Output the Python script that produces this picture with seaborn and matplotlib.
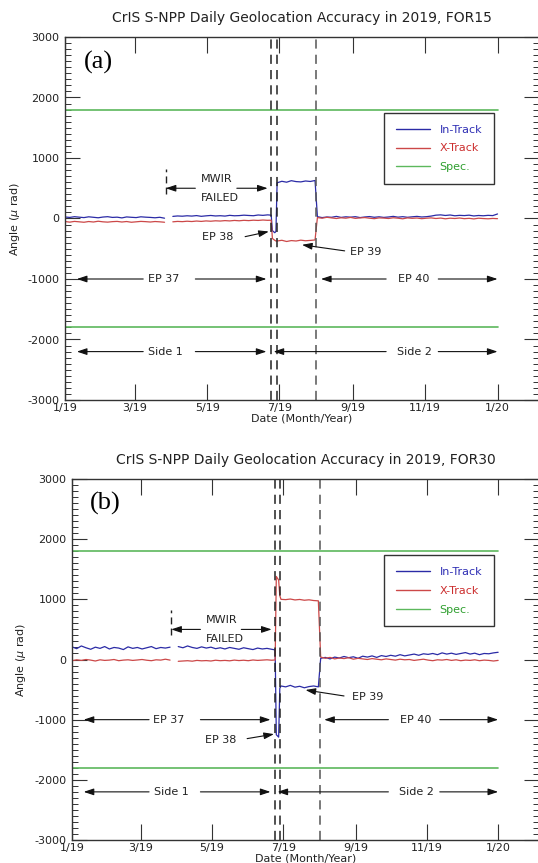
import numpy as np
import pandas as pd
import matplotlib
matplotlib.use("Agg")
import matplotlib.pyplot as plt
from matplotlib.ticker import MultipleLocator, FixedLocator, FixedFormatter
from matplotlib.lines import Line2D
import matplotlib.dates as mdates
import seaborn as sns

# ---------------- data ----------------
START = pd.Timestamp("2019-01-01")

days = [0, 4, 8, 12, 16, 20, 24, 28, 32, 36, 40, 44, 48, 52, 56, 60, 64, 68, 72, 76, 80, 84,
        88,
        91, 95, 99, 103, 107, 111, 115, 119, 123, 127, 131, 135, 139, 143, 147, 151, 155, 159, 163, 167, 171, 174,
        175, 177, 178,
        179, 183, 187, 191, 195, 199, 203, 207, 211,
        213, 217, 221, 225, 229, 233, 237, 241, 245, 249, 253, 257, 261, 265, 269, 273, 277, 281, 285, 289,
        293, 297, 301, 305, 309, 313, 317, 321, 325, 329, 333, 337, 341, 345, 349, 353, 357, 361, 365]

nan = np.nan
for15_in_track = [25, 18, 30, 22, 15, 28, 20, 12, 24, 30, 18, 22, 10, 26, 20, 15, 28, 22, 18, 12, 20, 5,
                  nan,
                  35, 42, 38, 45, 40, 48, 36, 44, 50, 42, 46, 40, 52, 45, 48, 55, 50, 46, 58, 52, 60, 55,
                  -200, -235, -215,
                  590, 615, 600, 625, 610, 605, 620, 612, 628,
                  30, 15, 25, 20, 35, 18, 28, 22, 30, 15, 25, 32, 20, 28, 18, 25, 35, 22, 30, 20,
                  28, 35, 25, 30, 40, 55, 60, 50, 58, 45, 52, 48, 55, 42, 50, 45, 52, 48, 75]
for15_x_track = [-50, -60, -48, -55, -62, -50, -58, -45, -55, -60, -52, -48, -58, -50, -62, -55, -48, -52, -58, -50, -55, -62,
                 nan,
                 -55, -48, -52, -45, -50, -42, -48, -40, -45, -38, -42, -35, -40, -32, -38, -30, -35, -28, -32, -25, -30, -28,
                 -330, -360, -372,
                 -372, -360, -380, -365, -372, -358, -368, -362, -355,
                 15, 5, 20, 10, 0, 12, 5, 18, 2, 10, 15, 5, -3, 10, 7, 0, 12, 5, -5, 10,
                 3, 8, -3, 5, 10, 0, 7, -5, 5, 0, 8, -3, 3, -7, 5, -1, -5, 1, -3]
for30_in_track = [210, 180, 225, 195, 170, 205, 185, 215, 175, 200, 190, 165, 210, 185, 200, 175, 195, 215, 180, 200, 190, 205,
                  nan,
                  215, 195, 225, 200, 185, 210, 190, 205, 180, 195, 175, 200, 185, 170, 195, 180, 165, 190, 175, 185, 170, 160,
                  -1250, -1290, -480,
                  -440, -455, -430, -460, -445, -470, -450, -440, -455,
                  20, 35, 10, 40, 25, 50, 30, 45, 20, 55, 40, 60, 35, 65, 50, 70, 55, 80, 60, 75,
                  90, 70, 95, 85, 100, 80, 110, 90, 105, 85, 100, 115, 90, 105, 80, 100, 95, 110, 120]
for30_x_track = [-20, -5, -15, 0, -10, -25, -5, -15, -10, 0, -20, -10, -5, -15, -8, 0, -12, -20, -5, -10, 5, -10,
                 nan,
                 -30, -25, -20, -28, -15, -22, -18, -25, -12, -20, -15, -22, -10, -18, -12, -20, -8, -15, -10, -5, -12, -8,
                 1380, 1320, 1060,
                 1000, 995, 1005, 990, 998, 985, 992, 980, 975,
                 40, 20, 35, 10, 25, 15, 30, 5, 20, 10, 0, 15, 5, -5, 10, 0, -10, 5, -5, 0,
                 -15, -5, 5, -10, -20, -5, -10, 0, -15, -5, -20, -10, -15, -5, -20, -10, -15, -25, -15]

spec_limit = 1800
spec_days = [0, 365]
event_days = [174, 178.5, 212]           # dashed vertical lines
mwir_fail_day = 85

tick_days = [0, 59, 120, 181, 243, 304, 365]
tick_labels = ["1/19", "3/19", "5/19", "7/19", "9/19", "11/19", "1/20"]
xlim_days = [0, 400]

titles = ["CrIS S-NPP Daily Geolocation Accuracy in 2019, FOR15",
          "CrIS S-NPP Daily Geolocation Accuracy in 2019, FOR30"]
letters = ["(a)", "(b)"]

# span annotations: label, y, text day, left tip, left tail, right tail, right tip
spans = [("EP 37", -1000, 83, 10, 66, 110, 170),
         ("EP 40", -1000, 294, 216, 271, 315, 365),
         ("Side 1", -2200, 85, 10, 66, 110, 170),
         ("Side 2", -2200, 295, 176, 271, 315, 365)]

# EP38 / EP39 pointer annotations per panel: (label, text xy, tail xy, head xy)
pointers = [
    [("EP 38", (129, -310), (152, -300), (172, -215)),
     ("EP 39", (254, -560), (236, -535), (200, -435))],
    [("EP 38", (127, -1340), (150, -1315), (173, -1240)),
     ("EP 39", (253, -620), (233, -606), (200, -507))],
]

BLUE = "#2b2ba6"
RED = "#cc4848"
GREEN = "#5cb85c"
TXT = "#222222"


def d(x):
    return START + pd.to_timedelta(x, unit="D")


# ---------------- style ----------------
sns.set_style("white")
plt.rcParams["font.family"] = ["DejaVu Sans"]
plt.rcParams["axes.unicode_minus"] = False
plt.rcParams["text.color"] = TXT

fig = plt.figure(figsize=(5.38, 8.63), dpi=100)
W, H = 538.0, 863.0
ax_a = fig.add_axes([65 / W, 1 - 400 / H, 474 / W, 363 / H])
ax_b = fig.add_axes([72 / W, 1 - 840 / H, 467 / W, 361 / H])

series = [(for15_in_track, for15_x_track), (for30_in_track, for30_x_track)]
legend_anchor = [(0.673, 0.791), (0.668, 0.789)]
ylabel_x = [-0.091, -0.094]

for i, ax in enumerate([ax_a, ax_b]):
    inr, xtr = series[i]
    df = pd.DataFrame({"day": days, "in_track": inr, "x_track": xtr})
    df["date"] = d(df["day"])
    df["seg"] = np.cumsum(np.isnan(df["in_track"].to_numpy()))
    df = df.dropna()

    sns.lineplot(data=df, x="date", y="in_track", units="seg", estimator=None, sort=False,
                 color=BLUE, lw=0.9, ax=ax, legend=False)
    sns.lineplot(data=df, x="date", y="x_track", units="seg", estimator=None, sort=False,
                 color=RED, lw=0.9, ax=ax, legend=False)

    # spec lines
    for s in (spec_limit, -spec_limit):
        ax.plot(d(pd.Series(spec_days)), [s, s], color=GREEN, lw=1.2)

    # event dashed lines
    for k, ed in enumerate(event_days):
        ax.axvline(d(ed), color="#222222" if k < 2 else "#555555", lw=1.1,
                   linestyle=(0, (6, 4)))

    # MWIR failure
    ax.vlines(d(mwir_fail_day), 400, 820, color="#222222", lw=1.0, linestyle=(0, (5, 3)))
    aprops = dict(arrowstyle="-|>,head_length=0.6,head_width=0.2", color="#111111",
                  lw=0.8, shrinkA=0, shrinkB=0, mutation_scale=10)
    ax.annotate("", xy=(d(mwir_fail_day), 500), xytext=(d(110), 500), arrowprops=aprops)
    ax.annotate("", xy=(d(171), 500), xytext=(d(145), 500), arrowprops=aprops)
    ax.text(d(115), 650, "MWIR", ha="left", va="center", fontsize=8)
    ax.text(d(115), 340, "FAILED", ha="left", va="center", fontsize=8)

    # spans
    for lab, yv, tday, ltip, ltail, rtail, rtip in spans:
        ax.annotate("", xy=(d(ltip), yv), xytext=(d(ltail), yv), arrowprops=aprops)
        ax.annotate("", xy=(d(rtip), yv), xytext=(d(rtail), yv), arrowprops=aprops)
        ax.text(d(tday), yv, lab, ha="center", va="center", fontsize=8)

    # pointers
    for lab, txy, tail, head in pointers[i]:
        ax.text(d(txy[0]), txy[1], lab, ha="center", va="center", fontsize=8)
        ax.annotate("", xy=(d(head[0]), head[1]), xytext=(d(tail[0]), tail[1]), arrowprops=aprops)

    # axes
    ax.set_xlim(d(xlim_days[0]), d(xlim_days[1]))
    ax.set_ylim(-3000, 3000)
    ax.xaxis.set_major_locator(FixedLocator(mdates.date2num(d(pd.Series(tick_days)))))
    ax.xaxis.set_major_formatter(FixedFormatter(tick_labels))
    ax.yaxis.set_major_locator(MultipleLocator(1000))
    ax.yaxis.set_minor_locator(MultipleLocator(100))
    ax.tick_params(axis="x", which="major", direction="in", length=11.5, width=0.8,
                   top=True, bottom=True, pad=2.5, labelsize=8, colors="#333333", labelcolor=TXT)
    ax.tick_params(axis="y", which="major", direction="in", length=10.8, width=0.8,
                   left=True, right=True, pad=4, labelsize=8, colors="#333333", labelcolor=TXT)
    ax.tick_params(axis="y", which="minor", direction="in", length=4.3, width=0.7,
                   left=True, right=True, colors="#333333")
    for sp in ax.spines.values():
        sp.set_color("#333333")
        sp.set_linewidth(1.0)

    ax.set_xlabel("Date (Month/Year)", fontsize=8, color=TXT)
    ax.xaxis.set_label_coords(0.5, -0.037)
    ax.set_ylabel("Angle ($\\mu$ rad)", fontsize=8, color=TXT)
    ax.yaxis.set_label_coords(ylabel_x[i], 0.5)
    ax.set_title(titles[i], fontsize=10, color=TXT, pad=10.5)
    ax.text(0.039, 0.931, letters[i], transform=ax.transAxes, ha="left", va="center",
            fontsize=19, family="Liberation Serif", color="black")

    handles = [Line2D([], [], color=BLUE, lw=1.0),
               Line2D([], [], color=RED, lw=1.0),
               Line2D([], [], color=GREEN, lw=1.0)]
    leg = ax.legend(handles, ["In-Track", "X-Track", "Spec."], loc="upper left",
                    bbox_to_anchor=legend_anchor[i], fontsize=8, frameon=True, fancybox=False,
                    framealpha=1, edgecolor="#333333", handlelength=3.1, handletextpad=0.85,
                    labelspacing=0.8, borderpad=1.05, borderaxespad=0.0,
                    labelcolor=["#2e2eb4", "#cc2e2e", "#2f9f2f"])
    leg.get_frame().set_linewidth(1.0)

fig.savefig("out.png", dpi=100)
